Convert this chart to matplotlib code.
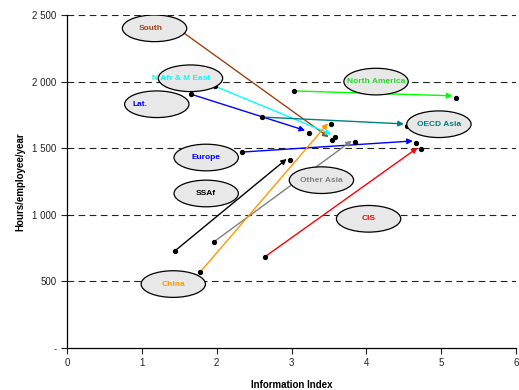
import matplotlib
matplotlib.use("Agg")
import matplotlib.pyplot as plt
from matplotlib.patches import Ellipse

# Data (Information Index, Hours/employee/year)
regions = ["South", "N Afr & M East", "Lat.", "North America", "OECD Asia",
           "Europe", "SSAf", "Other Asia", "CIS", "China"]
x_start = [1.50, 1.98, 1.66, 3.03, 2.60, 2.34, 1.44, 1.96, 2.64, 1.78]
y_start = [2390, 1965, 1905, 1930, 1734, 1471, 728, 796, 683, 570]
x_end = [3.51, 3.55, 3.20, 5.17, 4.52, 4.64, 2.95, 3.82, 4.70, 3.50]
y_end = [1577, 1600, 1630, 1893, 1682, 1555, 1426, 1562, 1509, 1695]
colors = ["#A0420F", "#00FFFF", "#0000FF", "#00FF00", "#008080",
          "#0000FF", "#000000", "#808080", "#FF0000", "#FF9900"]
text_colors = ["#A0420F", "#00FFFF", "#0000FF", "#22DD22", "#008080",
               "#0000FF", "#000000", "#808080", "#FF0000", "#FF9900"]
show_start_dot = [False, True, True, True, True, True, True, True, True, True]
# label ellipse centres (data units)
label_x = [1.17, 1.65, 1.20, 4.13, 4.97, 1.86, 1.86, 3.40, 4.03, 1.42]
label_y = [2400, 2025, 1830, 2000, 1680, 1430, 1160, 1260, 970, 480]
# text offset within ellipse (data x units)
text_dx = [-0.05, -0.12, -0.22, 0.0, 0.0, 0.0, 0.0, 0.0, 0.0, 0.0]

xticks = [0, 1, 2, 3, 4, 5, 6]
yticks = [0, 500, 1000, 1500, 2000, 2500]
ytick_labels = ["-", "500", "1 000", "1 500", "2 000", "2 500"]

fig = plt.figure(figsize=(5.19, 3.90), dpi=100)
ax = fig.add_axes([67/519, 1-348/390, (516-67)/519, (348-15)/390])
ax.set_xlim(0, 6)
ax.set_ylim(0, 2500)

for yv in yticks[1:]:
    ax.axhline(yv, color="#222222", lw=0.8, dashes=(6, 4), zorder=1)

for i in range(len(regions)):
    ax.annotate("", xy=(x_end[i], y_end[i]), xytext=(x_start[i], y_start[i]),
                arrowprops=dict(arrowstyle="-|>", color=colors[i], lw=1.0,
                                mutation_scale=8, shrinkA=0, shrinkB=1),
                zorder=3)
    if show_start_dot[i]:
        ax.plot(x_start[i], y_start[i], "o", color="black", ms=2.8, zorder=4)
    ax.plot(x_end[i] + 0.03, y_end[i] - 15, "o", color="black", ms=2.8, zorder=4)

for i in range(len(regions)):
    e = Ellipse((label_x[i], label_y[i]), width=0.86, height=200,
                facecolor="#E8E8E8", edgecolor="black", lw=0.9, zorder=5)
    ax.add_patch(e)
    ax.text(label_x[i] + text_dx[i], label_y[i], regions[i], color=text_colors[i],
            ha="center", va="center", fontsize=6, fontweight="bold",
            family=["Liberation Sans Narrow", "Liberation Sans", "DejaVu Sans"],
            zorder=6)

for s in ["top", "right"]:
    ax.spines[s].set_visible(False)
ax.spines["left"].set_linewidth(0.9)
ax.spines["bottom"].set_linewidth(0.9)

ax.set_xticks(xticks)
ax.set_xticklabels([str(v) for v in xticks])
ax.set_yticks(yticks)
ax.set_yticklabels(ytick_labels)
ax.tick_params(axis="both", labelsize=7, colors="#222222", length=4, width=0.8,
               direction="out")
for lab in ax.get_xticklabels() + ax.get_yticklabels():
    lab.set_family(["Liberation Sans", "DejaVu Sans"])

ax.set_xlabel("Information Index", fontsize=7, fontweight="bold",
              family=["Liberation Sans Narrow", "Liberation Sans"], labelpad=8)
ax.set_ylabel("Hours/employee/year", fontsize=7, fontweight="bold",
              family=["Liberation Sans Narrow", "Liberation Sans"], labelpad=5)

fig.savefig("out.png", dpi=100)
